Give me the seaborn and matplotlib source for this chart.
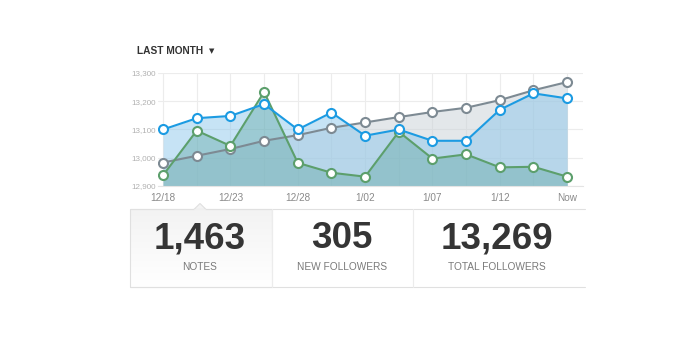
import matplotlib
matplotlib.use("Agg")
import matplotlib.pyplot as plt
import seaborn as sns
import pandas as pd
import numpy as np
from matplotlib.patches import Rectangle, Polygon

# ---- data ----
dates = ["12/18", "12/20", "12/23", "12/25", "12/28", "12/30", "1/02",
         "1/04", "1/07", "1/09", "1/12", "1/14", "Now"]
tick_labels = ["12/18", "", "12/23", "", "12/28", "", "1/02", "", "1/07", "", "1/12", "", "Now"]
notes = [13100, 13140, 13148, 13190, 13100, 13160, 13078, 13100, 13060, 13060, 13170, 13228, 13210]
total_followers = [12983, 13007, 13031, 13060, 13080, 13106, 13125, 13144, 13162, 13177, 13204, 13239, 13268]
new_followers = [12938, 13096, 13042, 13233, 12982, 12947, 12933, 13092, 12997, 13012, 12966, 12968, 12933]
y_ticks = [12900, 13000, 13100, 13200, 13300]
stat_values = ["1,463", "305", "13,269"]
stat_labels = ["NOTES", "NEW FOLLOWERS", "TOTAL FOLLOWERS"]

sns.set_theme(style="white")
plt.rcParams['font.family'] = ['Liberation Sans', 'DejaVu Sans']

idx = np.arange(len(dates))
df = pd.DataFrame({
    "i": np.tile(idx, 3),
    "value": notes + total_followers + new_followers,
    "series": ["notes"] * 13 + ["total"] * 13 + ["new"] * 13,
})

W, H = 680, 344
fig = plt.figure(figsize=(W / 100, H / 100), dpi=100)

# axes: left 158px, right 583px, top 73px, bottom 186px
ax = fig.add_axes([158 / W, 1 - 186 / H, (583 - 158) / W, (186 - 73) / H])
ymin = 12900
colors = {"total": "#7d8a93", "notes": "#1c9be2", "new": "#5c9f6c"}
fills = {"total": ("#c9d1d7", 0.5), "notes": ("#86c4ea", 0.47), "new": ("#5aa39c", 0.38)}

for s in ["total", "notes", "new"]:
    sub = df[df.series == s]
    ax.fill_between(sub["i"], sub["value"], ymin, color=fills[s][0], alpha=fills[s][1],
                    linewidth=0, zorder=1)

for s, z in [("total", 3), ("new", 4), ("notes", 5)]:
    sub = df[df.series == s]
    sns.lineplot(data=sub, x="i", y="value", ax=ax, color=colors[s], linewidth=1.5,
                 marker="o", markersize=6.5, markerfacecolor="white",
                 markeredgecolor=colors[s], markeredgewidth=1.5, zorder=z, legend=False)

ax.set_xlim(-0.15, 12.47)
ax.set_ylim(12900, 13300)
ax.set_xticks(idx)
ax.set_xticklabels(tick_labels, fontsize=7.2, color="#8a8a8a")
ax.set_yticks(y_ticks)
ax.set_yticklabels([f"{v:,}" for v in y_ticks], fontsize=5.8, color="#b0b0b0")
ax.tick_params(axis="both", length=0, pad=1.5)
ax.tick_params(axis="x", pad=5)
ax.grid(True, color="#ececec", linewidth=0.8, zorder=0)
ax.set_axisbelow(True)
for side in ["top", "right", "left"]:
    ax.spines[side].set_visible(False)
ax.spines["bottom"].set_color("#e4e4e4")
ax.spines["bottom"].set_linewidth(0.8)
ax.set_xlabel("")
ax.set_ylabel("")

# title
fig.text(137 / W, 1 - 50.5 / H, "LAST MONTH", fontsize=7.3, color="#333333",
         fontweight="bold", va="center", ha="left")
fig.text(212 / W, 1 - 51 / H, "▼", fontsize=5, color="#333333", va="center", ha="center",
         family=["DejaVu Sans"])

# stats panel overlay in pixel coords
ov = fig.add_axes([0, 0, 1, 1], zorder=10)
ov.set_xlim(0, W)
ov.set_ylim(H, 0)
ov.axis("off")
ov.patch.set_alpha(0)
# selected panel background (subtle gradient)
grad = np.linspace(0, 1, 64).reshape(-1, 1)
ov.imshow(grad, extent=(130, 272, 287, 209), cmap=matplotlib.colors.LinearSegmentedColormap.from_list(
    "g", ["#f3f3f3", "#ffffff"]), aspect="auto", zorder=0)
ov.add_patch(Rectangle((130, 209), 142, 78, facecolor="none", edgecolor="#e0e0e0", linewidth=0.8))
ov.set_xlim(0, W)
ov.set_ylim(H, 0)
# top border and notch
ov.plot([130, 194], [209, 209], color="#e0e0e0", lw=0.8)
ov.plot([206, 585], [209, 209], color="#e0e0e0", lw=0.8)
ov.add_patch(Polygon([[194, 209.4], [200, 203.5], [206, 209.4]], closed=True,
                     facecolor="#f3f3f3", edgecolor="#e0e0e0", linewidth=0.8))
ov.plot([195, 205], [209.6, 209.6], color="#f3f3f3", lw=1.2)
ov.plot([130, 585], [287, 287], color="#e0e0e0", lw=0.8)
ov.plot([413, 413], [209, 287], color="#ececec", lw=0.8)
ov.plot([272, 272], [209, 287], color="#ececec", lw=0.8)

centers = [200, 342, 497]
for cx, v, lab in zip(centers, stat_values, stat_labels):
    ov.text(cx, 239, v, fontsize=26.5, fontweight="bold", color="#353535",
            ha="center", va="center")
    ov.text(cx, 267, lab, fontsize=7.3, color="#7a7a7a", ha="center", va="center")

fig.savefig("out.png", dpi=100)
